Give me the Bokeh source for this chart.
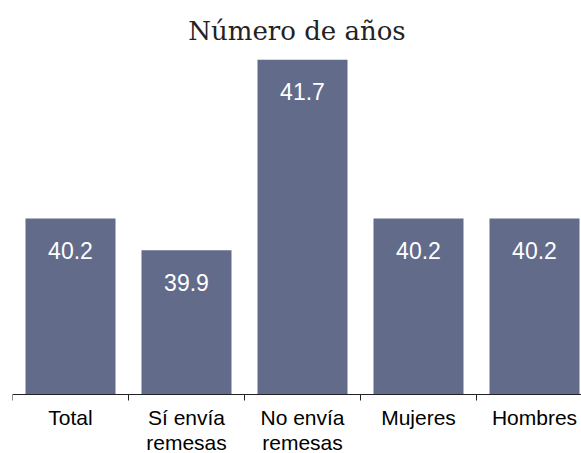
import numpy as np
from bokeh.plotting import figure
from bokeh.models import ColumnDataSource, Range1d, LinearAxis, FixedTicker
from bokeh.core.properties import value
from bokeh.embed import file_html
from bokeh.resources import INLINE

# ---- data ----
title_text = "Número de años"
categories = ["Total", "Sí envía\nremesas", "No envía\nremesas", "Mujeres", "Hombres"]
values = [40.2, 39.9, 41.7, 40.2, 40.2]
labels = ["40.2", "39.9", "41.7", "40.2", "40.2"]

Y_START = 38.54
Y_END = 41.7
BAR_COLOR = "#636B8A"

# layout (pixels)
PLOT_H = 334        # from baseline to top of tallest bar
BELOW = 59          # space under the baseline for the category labels
y_low = Y_START - BELOW * (Y_END - Y_START) / PLOT_H

xpos = np.arange(len(categories)) + 0.5
boundaries = np.arange(len(categories) + 1)

src = ColumnDataSource(dict(x=xpos, top=values, lab=labels))

p = figure(width=581, height=453, output_backend="svg", toolbar_location=None,
           x_axis_type=None, y_axis_type=None,
           x_range=Range1d(0, 569 / 116), y_range=Range1d(y_low, Y_END),
           min_border_left=12, min_border_right=0, min_border_top=0, min_border_bottom=0)
p.outline_line_color = None
p.background_fill_color = "white"
p.border_fill_color = "white"

p.title.text = title_text
p.title.align = "center"
p.title.text_font = "DejaVu Serif"
p.title.text_font_style = "normal"
p.title.text_font_size = "26px"
p.title.text_color = "#222222"
p.title.standoff = 25
p.title.padding = 1

p.vbar(x="x", top="top", bottom=Y_START, width=0.776, source=src,
       fill_color=BAR_COLOR, line_color=None)

p.text(x="x", y="top", text="lab", source=src, text_color="white",
       text_font=value("Liberation Sans"), text_font_size="23px",
       text_align="center", text_baseline="alphabetic", y_offset=32)

ax = LinearAxis(ticker=FixedTicker(ticks=list(xpos), minor_ticks=list(boundaries)),
                fixed_location=Y_START)
ax.major_label_overrides = {float(x): c for x, c in zip(xpos, categories)}
ax.axis_line_color = "#222222"
ax.axis_line_width = 1
ax.major_tick_line_color = None
ax.major_tick_out = 6
ax.major_tick_in = 0
ax.minor_tick_line_color = "#222222"
ax.minor_tick_out = 6
ax.minor_tick_in = 0
ax.major_label_standoff = 6
ax.major_label_text_font = "Liberation Sans"
ax.major_label_text_font_size = "21px"
ax.major_label_text_color = "#000000"
ax.major_label_text_line_height = 1.08
p.add_layout(ax, "below")

open("out.html", "w").write(file_html(p, INLINE))
